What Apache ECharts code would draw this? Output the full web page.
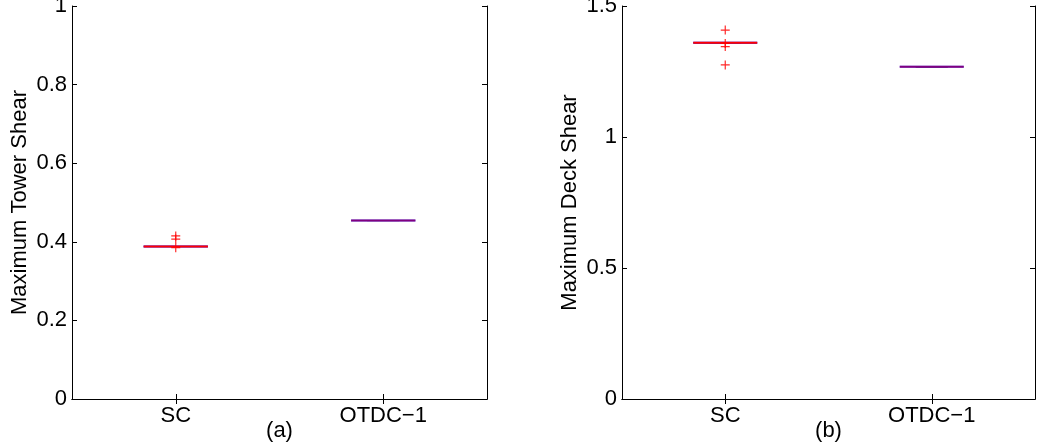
<!DOCTYPE html>
<html>
<head>
<meta charset="utf-8">
<script src="https://cdn.jsdelivr.net/npm/echarts@6/dist/echarts.min.js"></script>
<style>
  html, body { margin: 0; padding: 0; background: #fff; }
  #chart { width: 1037px; height: 445px; }
</style>
</head>
<body>
<div id="chart"></div>
<script>
// Groups on the horizontal axis
const categories = ['SC', 'OTDC\u22121'];

// Five-number summaries per group: [min, Q1, median, Q3, max]
const towerStats = [
  [0.388, 0.388, 0.388, 0.388, 0.388],
  [0.454, 0.454, 0.454, 0.454, 0.454]
];
const deckStats = [
  [1.360, 1.360, 1.360, 1.360, 1.360],
  [1.268, 1.268, 1.268, 1.268, 1.268]
];

// Outlying runs: [group index, value]
const towerOutliers = [[0, 0.415], [0, 0.407], [0, 0.385]];
const deckOutliers = [[0, 1.408], [0, 1.357], [0, 1.345], [0, 1.275]];

// Value-axis ticks
const towerTicks = [0, 0.2, 0.4, 0.6, 0.8, 1];
const deckTicks = [0, 0.5, 1, 1.5];

// Panel captions and axis titles
const panelCaptions = ['(a)', '(b)'];
const yTitles = ['Maximum Tower Shear', 'Maximum Deck Shear'];

const FONT = 'Liberation Sans, Arial, Helvetica, sans-serif';
const FS = 22;
const TICK_LEN = 5;
// where the box edges and median coincide the strokes blend
const medianOpacity = [1, 0.5];

const plusSymbol = 'path://M4,0L5.2,0L5.2,4L9.2,4L9.2,5.2L5.2,5.2L5.2,9.2L4,9.2L4,5.2L0,5.2L0,4L4,4Z';

function renderBox(params, api) {
  const c = api.value(0);
  const pts = [1, 2, 3, 4, 5].map(i => api.coord([c, api.value(i)]));
  const x = pts[0][0];
  const [pMin, pQ1, pMed, pQ3, pMax] = pts.map(p => p[1]);
  const half = api.size([1, 0])[0] * 0.155;
  const capHalf = half / 2;
  return {
    type: 'group',
    children: [
      { type: 'line', shape: { x1: x, y1: pQ3, x2: x, y2: pMax },
        style: { stroke: '#000', lineWidth: 1, lineDash: [4, 3] } },
      { type: 'line', shape: { x1: x, y1: pQ1, x2: x, y2: pMin },
        style: { stroke: '#000', lineWidth: 1, lineDash: [4, 3] } },
      { type: 'line', shape: { x1: x - capHalf, y1: pMax, x2: x + capHalf, y2: pMax },
        style: { stroke: '#000', lineWidth: 1 } },
      { type: 'line', shape: { x1: x - capHalf, y1: pMin, x2: x + capHalf, y2: pMin },
        style: { stroke: '#000', lineWidth: 1 } },
      { type: 'rect', shape: { x: x - half, y: pQ3, width: 2 * half, height: pQ1 - pQ3 },
        style: { fill: null, stroke: '#0000ff', lineWidth: 2 } },
      { type: 'line', shape: { x1: x - half, y1: pMed, x2: x + half, y2: pMed },
        style: { stroke: '#ff0000', lineWidth: 2, opacity: medianOpacity[c] } }
    ]
  };
}

function boxData(stats) {
  return stats.map((s, i) => [i].concat(s));
}

const grids = [
  { left: 72, right: 550, top: 6, bottom: 46, outerBoundsMode: 'none', containLabel: false },
  { left: 622, right: 2, top: 6, bottom: 46, outerBoundsMode: 'none', containLabel: false }
];

const xAxes = [];
const yAxes = [];
[0, 1].forEach(g => {
  const base = {
    type: 'category',
    data: categories,
    gridIndex: g,
    boundaryGap: true,
    axisLine: { show: true, lineStyle: { color: '#000', width: 1 } },
    axisTick: { show: true, inside: true, alignWithLabel: true, length: TICK_LEN,
                lineStyle: { color: '#000', width: 1 } },
    splitLine: { show: false }
  };
  xAxes.push(Object.assign({}, base, {
    position: 'bottom',
    axisLabel: { color: '#000', fontFamily: FONT, fontSize: FS, margin: 6 },
    name: panelCaptions[g],
    nameLocation: 'middle',
    nameGap: 21,
    nameMoveOverlap: false,
    nameTextStyle: { color: '#000', fontFamily: FONT, fontSize: FS }
  }));
  xAxes.push(Object.assign({}, base, {
    position: 'top',
    axisLabel: { show: false }
  }));
  const ticks = g === 0 ? towerTicks : deckTicks;
  const vbase = {
    type: 'value',
    gridIndex: g,
    min: ticks[0],
    max: ticks[ticks.length - 1],
    interval: ticks[1] - ticks[0],
    axisLine: { show: true, lineStyle: { color: '#000', width: 1 } },
    axisTick: { show: true, inside: true, length: TICK_LEN, lineStyle: { color: '#000', width: 1 } },
    splitLine: { show: false }
  };
  yAxes.push(Object.assign({}, vbase, {
    position: 'left',
    axisLabel: { color: '#000', fontFamily: FONT, fontSize: FS, margin: 5,
                 verticalAlign: 'middle', padding: [5, 0, 0, 0] },
    name: yTitles[g],
    nameLocation: 'middle',
    nameGap: 41,
    nameMoveOverlap: false,
    nameTextStyle: { color: '#000', fontFamily: FONT, fontSize: FS }
  }));
  yAxes.push(Object.assign({}, vbase, {
    position: 'right',
    axisLabel: { show: false }
  }));
});

const series = [
  { type: 'custom', xAxisIndex: 0, yAxisIndex: 0, renderItem: renderBox,
    encode: { x: 0, y: [1, 2, 3, 4, 5] }, data: boxData(towerStats), z: 2 },
  { type: 'scatter', xAxisIndex: 0, yAxisIndex: 0, data: towerOutliers,
    symbol: plusSymbol, symbolSize: 9, itemStyle: { color: '#ff0000', opacity: 0.85 }, z: 3 },
  { type: 'custom', xAxisIndex: 2, yAxisIndex: 2, renderItem: renderBox,
    encode: { x: 0, y: [1, 2, 3, 4, 5] }, data: boxData(deckStats), z: 2 },
  { type: 'scatter', xAxisIndex: 2, yAxisIndex: 2, data: deckOutliers,
    symbol: plusSymbol, symbolSize: 9, itemStyle: { color: '#ff0000', opacity: 0.85 }, z: 3 }
];

const chart = echarts.init(document.getElementById('chart'), null, { renderer: 'canvas' });
chart.setOption({
  animation: false,
  backgroundColor: '#fff',
  textStyle: { fontFamily: FONT },
  grid: grids,
  xAxis: xAxes,
  yAxis: yAxes,
  series: series
});
</script>
</body>
</html>
